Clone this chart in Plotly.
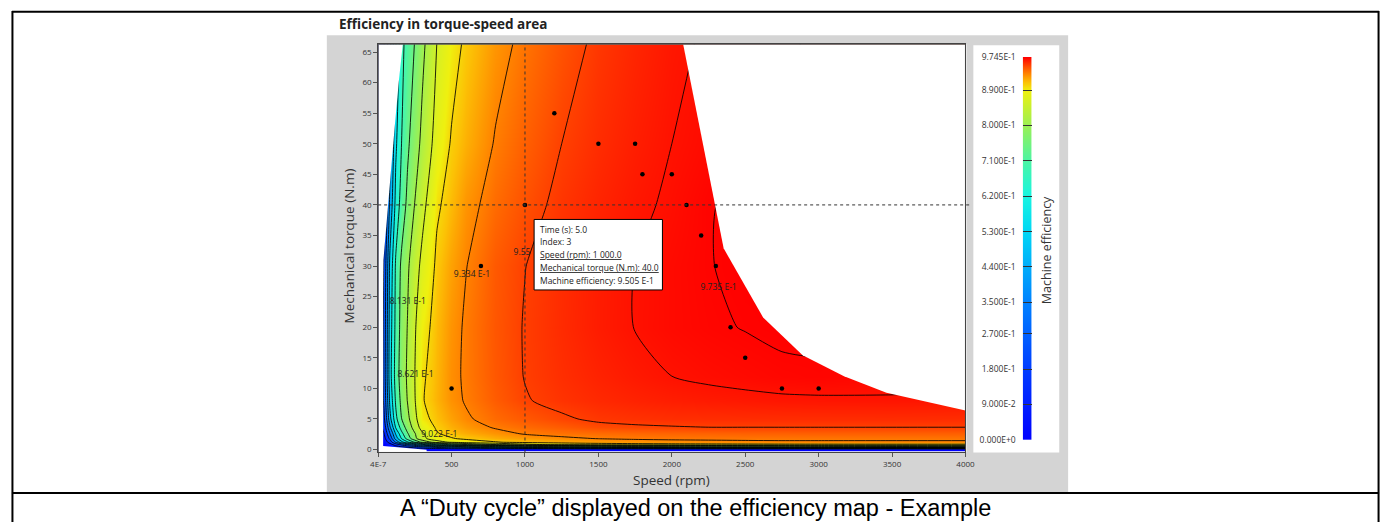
import plotly.graph_objects as go

W, H = 1393, 527

# ---------------- efficiency map (speed in rpm, torque in N.m) ----------------
speed_grid = [0, 40, 80, 120, 160, 200, 250, 300, 400, 500, 600, 800, 1000,
              1250, 1500, 1750, 2000, 2250, 2500, 2750, 3000, 3500, 4000]
torque_grid = [0, 0.4, 0.8, 1.2, 1.8, 2.6, 3.6, 5, 8, 12, 20, 30, 40, 50, 67]

eff_t0_0 = [0, 0, 0, 0, 0, 0, 0, 0, 0, 0, 0, 0, 0, 0, 0, 0, 0, 0, 0, 0, 0, 0, 0]
eff_t0_4 = [0, 0, 0.02, 0.05, 0.08, 0.11, 0.15, 0.19, 0.26, 0.32, 0.37, 0.45, 0.51,
            0.56, 0.60, 0.63, 0.65, 0.67, 0.68, 0.69, 0.70, 0.71, 0.72]
eff_t0_8 = [0, 0.01, 0.06, 0.15, 0.25, 0.33, 0.42, 0.50, 0.62, 0.70, 0.75, 0.81, 0.85,
            0.87, 0.88, 0.885, 0.888, 0.89, 0.892, 0.893, 0.894, 0.895, 0.895]
eff_t1_2 = [0, 0.03, 0.15, 0.35, 0.50, 0.60, 0.70, 0.77, 0.84, 0.87, 0.885, 0.90, 0.91,
            0.917, 0.922, 0.925, 0.927, 0.928, 0.929, 0.93, 0.93, 0.93, 0.93]
eff_t1_8 = [0, 0.06, 0.25, 0.48, 0.62, 0.72, 0.80, 0.85, 0.89, 0.90, 0.908, 0.918, 0.925,
            0.93, 0.934, 0.936, 0.937, 0.9375, 0.938, 0.938, 0.938, 0.938, 0.938]
eff_t2_6 = [0, 0.10, 0.33, 0.54, 0.67, 0.75, 0.81, 0.855, 0.90, 0.911, 0.918, 0.927, 0.935,
            0.939, 0.941, 0.9425, 0.9435, 0.944, 0.9445, 0.9448, 0.945, 0.945, 0.945]
eff_t3_6 = [0, 0.15, 0.42, 0.62, 0.72, 0.78, 0.835, 0.88, 0.906, 0.917, 0.925, 0.935, 0.941,
            0.946, 0.951, 0.953, 0.954, 0.9548, 0.9548, 0.9548, 0.9548, 0.9548, 0.9548]
eff_t5 = [0, 0.20, 0.50, 0.67, 0.755, 0.80, 0.85, 0.893, 0.911, 0.922, 0.931, 0.941, 0.947,
          0.953, 0.9575, 0.959, 0.960, 0.9603, 0.9605, 0.9606, 0.9607, 0.9607, 0.9605]
eff_t8 = [0, 0.25, 0.55, 0.70, 0.775, 0.815, 0.86, 0.90, 0.916, 0.928, 0.935, 0.946, 0.954,
          0.959, 0.962, 0.964, 0.9655, 0.9665, 0.9672, 0.9678, 0.968, 0.9682, 0.968]
eff_t12 = [0, 0.27, 0.58, 0.72, 0.785, 0.82, 0.862, 0.898, 0.915, 0.929, 0.936, 0.9475, 0.9555,
           0.9605, 0.964, 0.9668, 0.9691, 0.9705, 0.9715, 0.9725, 0.973, 0.972, 0.971]
eff_t20 = [0, 0.26, 0.57, 0.71, 0.78, 0.815, 0.858, 0.89, 0.913, 0.927, 0.936, 0.948, 0.9558,
           0.9615, 0.966, 0.9693, 0.9715, 0.9728, 0.9737, 0.9745, 0.9742, 0.972, 0.968]
eff_t30 = [0, 0.24, 0.55, 0.70, 0.77, 0.805, 0.845, 0.872, 0.908, 0.922, 0.933, 0.947, 0.9548,
           0.961, 0.9658, 0.9692, 0.9715, 0.9733, 0.9745, 0.9744, 0.973, 0.969, 0.964]
eff_t40 = [0, 0.17, 0.46, 0.64, 0.72, 0.77, 0.815, 0.85, 0.898, 0.913, 0.927, 0.941, 0.950,
           0.9585, 0.9635, 0.9675, 0.9703, 0.9733, 0.9742, 0.973, 0.971, 0.967, 0.962]
eff_t50 = [0, 0.14, 0.40, 0.60, 0.69, 0.745, 0.79, 0.825, 0.88, 0.905, 0.917, 0.935, 0.945,
           0.955, 0.961, 0.9655, 0.9691, 0.9715, 0.9725, 0.972, 0.970, 0.966, 0.960]
eff_t67 = [0, 0.10, 0.30, 0.52, 0.67, 0.715, 0.757, 0.80, 0.862, 0.89, 0.907, 0.926, 0.938,
           0.949, 0.9575, 0.963, 0.9675, 0.970, 0.971, 0.970, 0.968, 0.963, 0.957]

efficiency = [eff_t0_0, eff_t0_4, eff_t0_8, eff_t1_2, eff_t1_8, eff_t2_6, eff_t3_6, eff_t5,
              eff_t8, eff_t12, eff_t20, eff_t30, eff_t40, eff_t50, eff_t67]
eff_max = 0.9745

# iso-efficiency lines
contour_levels = [0.1043, 0.2237, 0.3345, 0.4363, 0.5293, 0.6135, 0.6889, 0.7555,
                  0.8131, 0.8621, 0.9022, 0.9334, 0.9550, 0.9691, 0.9735]
label_text = ["8.131 E-1", "8.621 E-1", "9.022 E-1", "9.334 E-1", "9.55", "9.735 E-1"]
label_speed = [202, 255, 417, 639, 980, 2319]
label_torque = [24.2, 12.2, 2.4, 28.5, 32.2, 26.4]

# operating envelope: maximum torque vs speed, and lowest usable speed vs torque
max_torque_speed = [2077, 2353, 2622, 2891, 3173, 3462, 4000]
max_torque = [66.3, 32.9, 21.6, 15.4, 12.0, 9.3, 6.4]
min_speed = [168, 140, 110, 80, 55, 36, 34, 34, 330]
min_speed_torque = [66.3, 60, 52, 44, 37, 31, 25, 0.6, -0.05]

# duty cycle operating points
duty_speed = [500, 700, 1200, 1000, 1500, 1750, 1800, 2000, 2100, 2200, 2300, 2400, 2500, 2750, 3000]
duty_torque = [10, 30, 55, 40, 50, 50, 45, 45, 40, 35, 30, 20, 15, 10, 10]
selected_index = 3
selected_time = 5.0
selected_efficiency = "9.505 E-1"

# colour bar ticks
cbar_vals = [0, 0.09, 0.18, 0.27, 0.35, 0.44, 0.53, 0.62, 0.71, 0.80, 0.89, 0.9745]
cbar_text = ["0.000E+0", "9.000E-2", "1.800E-1", "2.700E-1", "3.500E-1", "4.400E-1",
             "5.300E-1", "6.200E-1", "7.100E-1", "8.000E-1", "8.900E-1", "9.745E-1"]

x_ticks = [0, 500, 1000, 1500, 2000, 2500, 3000, 3500, 4000]
x_ticktext = ["4E-7", "500", "1000", "1500", "2000", "2500", "3000", "3500", "4000"]
y_ticks = [0, 5, 10, 15, 20, 25, 30, 35, 40, 45, 50, 55, 60, 65]

scale_points = [0, 0.18, 0.35, 0.53, 0.62, 0.71, 0.80, 0.89, 0.91, 0.93, 0.95, 0.9745]
scale_colors = ["rgb(0,0,255)", "rgb(0,60,255)", "rgb(0,130,255)", "rgb(0,215,245)",
                "rgb(25,245,225)", "rgb(75,245,165)", "rgb(155,240,85)", "rgb(240,240,15)",
                "rgb(252,195,5)", "rgb(255,140,0)", "rgb(255,80,0)", "rgb(255,0,0)"]
colorscale = [[p / eff_max, c] for p, c in zip(scale_points, scale_colors)]


def px(x):
    """page x (pixels) -> paper fraction"""
    return x / W


def py(y):
    """page y (pixels from top) -> paper fraction"""
    return 1 - y / H


FONT = "Open Sans"
fig = go.Figure()

fig.add_trace(go.Heatmap(x=speed_grid, y=torque_grid, z=efficiency, zmin=0, zmax=eff_max,
                         colorscale=colorscale, zsmooth="best", showscale=False,
                         hoverinfo="skip"))

for lvl in contour_levels:
    fig.add_trace(go.Contour(
        x=speed_grid, y=torque_grid, z=efficiency, autocontour=False,
        contours=dict(start=lvl, end=lvl, size=1, coloring="none", showlabels=False),
        line=dict(color="rgba(0,0,0,0.85)", width=1, smoothing=0.6),
        showscale=False, hoverinfo="skip"))

# blank out everything outside the operating envelope
fig.add_trace(go.Scatter(
    x=max_torque_speed + [4000, max_torque_speed[0]],
    y=max_torque + [70, 70],
    mode="lines", fill="toself", fillcolor="white", line=dict(width=0, color="white"),
    hoverinfo="skip"))
fig.add_trace(go.Scatter(
    x=[0, min_speed[0]] + min_speed + [min_speed[-1], 0],
    y=[70, 70] + min_speed_torque + [-1, -1],
    mode="lines", fill="toself", fillcolor="white", line=dict(width=0, color="white"),
    hoverinfo="skip"))

fig.add_trace(go.Scatter(x=label_speed, y=label_torque, mode="text", text=label_text,
                         textposition="middle center",
                         textfont=dict(family=FONT, size=8.5, color="#222"),
                         hoverinfo="skip"))

fig.add_trace(go.Scatter(x=duty_speed, y=duty_torque, mode="markers",
                         marker=dict(color="black", size=4.5), hoverinfo="skip"))

# colour bar drawn as its own small subplot
fig.add_trace(go.Heatmap(x=[0, 1], y=[0, eff_max], z=[[0, 0], [eff_max, eff_max]],
                         zmin=0, zmax=eff_max, colorscale=colorscale, zsmooth="best",
                         showscale=False, xaxis="x2", yaxis="y2", hoverinfo="skip"))

sel_speed = duty_speed[selected_index]
sel_torque = duty_torque[selected_index]

shapes = [
    # document frame
    dict(type="rect", xref="paper", yref="paper", x0=px(323), x1=px(1074), y0=py(497), y1=py(30),
         fillcolor="#d4d4d4", line=dict(width=0), layer="below"),
    dict(type="rect", xref="paper", yref="paper", x0=px(375), x1=px(971), y0=py(456), y1=py(39),
         fillcolor="white", line=dict(width=0), layer="below"),
    dict(type="rect", xref="paper", yref="paper", x0=px(978), x1=px(1065), y0=py(456), y1=py(40),
         fillcolor="white", line=dict(width=0), layer="below"),
    dict(type="line", xref="paper", yref="paper", x0=px(4), x1=px(1389), y0=py(6), y1=py(6),
         line=dict(color="black", width=2)),
    dict(type="line", xref="paper", yref="paper", x0=px(4), x1=px(1389), y0=py(497.5), y1=py(497.5),
         line=dict(color="black", width=2)),
    dict(type="line", xref="paper", yref="paper", x0=px(4.5), x1=px(4.5), y0=py(5), y1=0,
         line=dict(color="black", width=2)),
    dict(type="line", xref="paper", yref="paper", x0=px(1388.5), x1=px(1388.5), y0=py(5), y1=0,
         line=dict(color="black", width=2)),
    # plot frame on top of the map
    dict(type="rect", xref="x domain", yref="y domain", x0=0, x1=1, y0=0, y1=1,
         line=dict(color="#444", width=1)),
    # cross-hair on the selected point
    dict(type="line", xref="x", yref="y domain", x0=sel_speed, x1=sel_speed, y0=0, y1=1,
         line=dict(color="#333", width=1, dash="dot")),
    dict(type="line", xref="x domain", yref="y", x0=0, x1=1.008, y0=sel_torque, y1=sel_torque,
         line=dict(color="#333", width=1, dash="dot")),
    # tooltip box
    dict(type="rect", xref="paper", yref="paper", x0=px(533), x1=px(663), y0=py(290), y1=py(218),
         fillcolor="white", line=dict(color="black", width=1)),
]

tip_lines = [
    (f"Time (s): {selected_time:.1f}", False),
    (f"Index: {selected_index}", False),
    (f"Speed (rpm): {sel_speed // 1000} {sel_speed % 1000:03d}.0", True),
    (f"Mechanical torque (N.m): {sel_torque:.1f}", True),
    (f"Machine efficiency: {selected_efficiency}", False),
]
tip_y = [228, 241, 254, 267, 280]

annotations = [
    dict(text="<b>Efficiency in torque-speed area</b>", x=px(333), y=py(18), xref="paper", yref="paper",
         xanchor="left", yanchor="middle", showarrow=False,
         font=dict(family=FONT, size=13.5, color="#222")),
    dict(text="Speed (rpm)", x=px(672), y=py(484), xref="paper", yref="paper",
         xanchor="center", yanchor="middle", showarrow=False,
         font=dict(family=FONT, size=13.5, color="#333")),
    dict(text="Mechanical torque (N.m)", x=px(345), y=py(245), xref="paper", yref="paper",
         xanchor="center", yanchor="middle", showarrow=False, textangle=-90,
         font=dict(family=FONT, size=13.5, color="#333")),
    dict(text="Machine efficiency", x=px(1052), y=py(249), xref="paper", yref="paper",
         xanchor="center", yanchor="middle", showarrow=False, textangle=-90,
         font=dict(family=FONT, size=12.5, color="#333")),
    dict(text="A \u201cDuty cycle\u201d displayed on the efficiency map - Example",
         x=px(697), y=py(513), xref="paper", yref="paper", xanchor="center", yanchor="middle",
         showarrow=False, font=dict(family="Liberation Sans", size=23.5, color="black")),
]
for (txt, underline), yy in zip(tip_lines, tip_y):
    f = dict(family=FONT, size=8.5, color="#222")
    if underline:
        f["lineposition"] = "under"
    annotations.append(dict(text=txt, x=px(537), y=py(yy), xref="paper", yref="paper",
                            xanchor="left", yanchor="middle", showarrow=False, font=f))

tick_font = dict(family=FONT, size=8, color="#333")
fig.update_layout(
    width=W, height=H, margin=dict(l=0, r=0, t=0, b=0),
    paper_bgcolor="white", plot_bgcolor="rgba(0,0,0,0)",
    showlegend=False, hovermode=False,
    xaxis=dict(domain=[px(375), px(970)], range=[0, 4000], tickvals=x_ticks, ticktext=x_ticktext,
               ticks="outside", ticklen=4, tickcolor="#555", tickfont=tick_font,
               showline=True, linecolor="#444", mirror=True, showgrid=False, zeroline=False),
    yaxis=dict(domain=[py(456), py(39)], range=[-0.48, 66.28], tickvals=y_ticks,
               ticks="outside", ticklen=4, tickcolor="#555", tickfont=tick_font,
               showline=True, linecolor="#444", mirror=True, showgrid=False, zeroline=False),
    xaxis2=dict(domain=[px(1028), px(1037)], range=[0, 1], visible=False, anchor="y2"),
    yaxis2=dict(domain=[py(443), py(52)], range=[0, eff_max], anchor="x2", side="left",
                tickvals=cbar_vals, ticktext=cbar_text, ticks="inside", ticklen=9,
                tickcolor="#333", tickwidth=1, ticklabelstandoff=6,
                tickfont=dict(family=FONT, size=8.5, color="#333"),
                showline=False, showgrid=False, zeroline=False),
    shapes=shapes, annotations=annotations,
)

# page without default body margins so the figure fills the window exactly
page_reset = ("document.body.style.margin='0';document.body.style.padding='0';"
              "document.documentElement.style.overflow='hidden';")
fig.write_html("out.html", post_script=page_reset)
